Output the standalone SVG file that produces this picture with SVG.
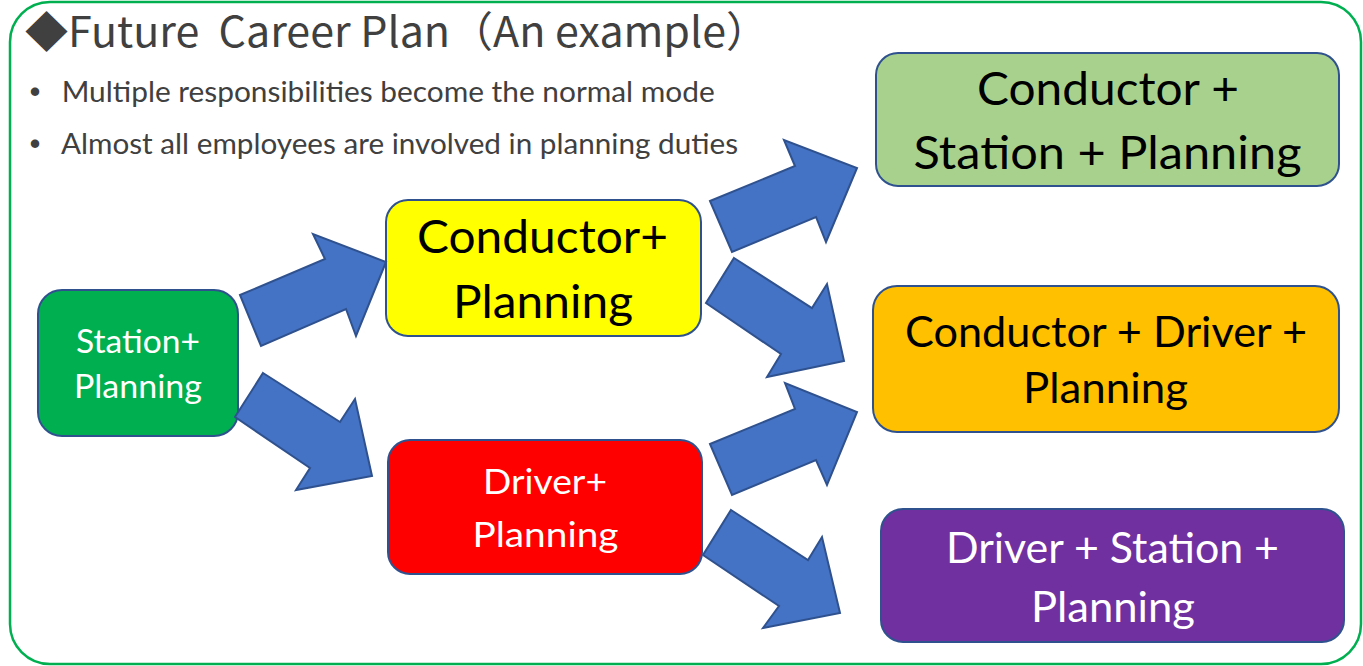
<svg xmlns="http://www.w3.org/2000/svg" width="1363" height="666" viewBox="0 0 1363 666">
<style>
.frame{fill:#FFFFFF;stroke:#00B050;stroke-width:2.5}
.title{font-family:"Noto Sans CJK JP","Noto Sans",sans-serif;font-size:42px;fill:#404040}
.bul{font-family:Lato,"Noto Sans",sans-serif;font-size:28.5px;fill:#404040}
.dot{font-family:"Noto Sans CJK JP",sans-serif;font-size:30px;font-weight:900;fill:#404040}
.box{stroke:#2F528F;stroke-width:2}
.lbl{font-family:Lato,"Liberation Sans",sans-serif;text-anchor:middle}
.arrow{fill:#4472C4;stroke:#2F528F;stroke-width:2;stroke-linejoin:miter}
</style>
<rect class="frame" x="10" y="2" width="1351" height="662" rx="40"/>
<g id="header">
<text class="title" x="25" y="47" xml:space="preserve" textLength="744" lengthAdjust="spacingAndGlyphs">◆Future  Career Plan（An example）</text>
<text y="101.5"><tspan class="dot" x="20" dy="1">・</tspan><tspan class="bul" x="61.7" dy="-1" textLength="653" lengthAdjust="spacingAndGlyphs">Multiple responsibilities become the normal mode</tspan></text>
<text y="154"><tspan class="dot" x="20" dy="1">・</tspan><tspan class="bul" x="61" dy="-1" textLength="677" lengthAdjust="spacingAndGlyphs">Almost all employees are involved in planning duties</tspan></text>
</g>
<g id="nodes">
<g id="station-planning">
<rect class="box" x="38" y="290" width="200" height="146" rx="24" fill="#00B050"/>
<text class="lbl" font-size="32" fill="#FFFFFF"><tspan x="138" y="353" textLength="124" lengthAdjust="spacingAndGlyphs">Station+</tspan><tspan x="138" y="398" textLength="128" lengthAdjust="spacingAndGlyphs">Planning</tspan></text>
</g>
<g id="conductor-planning">
<rect class="box" x="386" y="200" width="315" height="136" rx="22" fill="#FFFF00"/>
<text class="lbl" font-size="46" fill="#000000"><tspan x="542.5" y="253.3" textLength="251" lengthAdjust="spacingAndGlyphs">Conductor+</tspan><tspan x="543" y="318.3" textLength="180" lengthAdjust="spacingAndGlyphs">Planning</tspan></text>
</g>
<g id="driver-planning">
<rect class="box" x="388" y="440" width="314" height="134" rx="22" fill="#FF0000"/>
<text class="lbl" font-size="34" fill="#FFFFFF"><tspan x="545" y="494.3" textLength="124" lengthAdjust="spacingAndGlyphs">Driver+</tspan><tspan x="545.5" y="547.3" textLength="146" lengthAdjust="spacingAndGlyphs">Planning</tspan></text>
</g>
<g id="conductor-station-planning">
<rect class="box" x="876" y="53" width="463" height="133" rx="22" fill="#A9D18E"/>
<text class="lbl" font-size="46" fill="#000000"><tspan x="1108" y="105" textLength="262" lengthAdjust="spacingAndGlyphs">Conductor +</tspan><tspan x="1107.5" y="169" textLength="388" lengthAdjust="spacingAndGlyphs">Station + Planning</tspan></text>
</g>
<g id="conductor-driver-planning">
<rect class="box" x="873" y="286" width="466" height="146" rx="24" fill="#FFC000"/>
<text class="lbl" font-size="42" fill="#000000"><tspan x="1106" y="346.7" textLength="402" lengthAdjust="spacingAndGlyphs">Conductor + Driver +</tspan><tspan x="1105.5" y="403.3" textLength="165" lengthAdjust="spacingAndGlyphs">Planning</tspan></text>
</g>
<g id="driver-station-planning">
<rect class="box" x="881" y="509" width="463" height="133" rx="22" fill="#7030A0"/>
<text class="lbl" font-size="42" fill="#FFFFFF"><tspan x="1112.5" y="563" textLength="333" lengthAdjust="spacingAndGlyphs">Driver + Station +</tspan><tspan x="1113" y="622" textLength="164" lengthAdjust="spacingAndGlyphs">Planning</tspan></text>
</g>
</g>
<g id="connectors">
<polygon class="arrow" points="240,295 325,259 313,234 386,262 356,336 346,309 261,346"/>
<polygon class="arrow" points="263,373 340,422 355,399 372,476 296,490 310,468 235,417"/>
<polygon class="arrow" points="710,201 795,166 784,140 857,168 826,242 816,217 732,252"/>
<polygon class="arrow" points="734,258 812,308 827,284 844,361 767,377 781,354 706,303"/>
<polygon class="arrow" points="710,444 795,409 785,383 857,412 827,485 816,460 732,495"/>
<polygon class="arrow" points="731,510 808,560 822,537 840,613 763,628 779,606 703,555"/>
</g>
</svg>
